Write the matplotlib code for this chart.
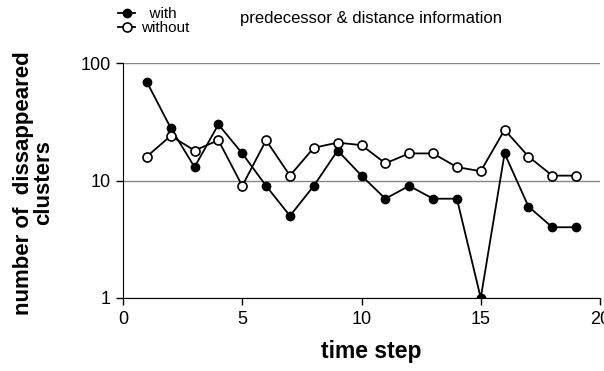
import numpy as np
import matplotlib.pyplot as plt

plt.rcParams['font.family'] = ['Liberation Sans', 'DejaVu Sans']

## data
time_step = [1, 2, 3, 4, 5, 6, 7, 8, 9, 10, 11, 12, 13, 14, 15, 16, 17, 18, 19]
with_info = [69, 28, 13, 30, 17, 9, 5, 9, 18, 11, 7, 9, 7, 7, 1, 17, 6, 4, 4]
without_info = [16, 24, 18, 22, 9, 22, 11, 19, 21, 20, 14, 17, 17, 13, 12, 27, 16, 11, 11]

fig = plt.figure(figsize=(6.04, 3.71), dpi=100)
ax = fig.add_axes([123 / 604, 1 - 298 / 371, 477 / 604, 235 / 371])

ax.plot(time_step, with_info, color='black', lw=1.3, marker='o', ms=6,
        mfc='black', mec='black', label='  with', zorder=3)
ax.plot(time_step, without_info, color='black', lw=1.3, marker='o', ms=6.5,
        mfc='white', mec='black', mew=1.2, label='without', zorder=3)

ax.set_yscale('log')
ax.set_ylim(1, 100)
ax.set_xlim(0, 20)
ax.set_xticks([0, 5, 10, 15, 20])
ax.set_yticks([1, 10, 100])
ax.set_yticklabels(['1', '10', '100'])
ax.minorticks_off()
ax.tick_params(direction='out', length=5, width=1, labelsize=13, pad=4)
ax.yaxis.grid(True, color='#888888', lw=1)
ax.set_axisbelow(True)

ax.spines['top'].set_visible(False)
ax.spines['right'].set_visible(False)

ax.set_xlabel('time step', fontsize=16.5, fontweight='bold')
ax.xaxis.set_label_coords(0.52, -0.18)
ax.set_ylabel('number of  dissappeared\nclusters', fontsize=16, fontweight='bold',
              linespacing=0.95)
ax.yaxis.set_label_coords(-0.145, 0.49)

fig.legend(loc='upper left', bbox_to_anchor=(112 / 604, 1 - 1 / 371), frameon=False,
           fontsize=11, handlelength=1.1, handletextpad=0.4, labelspacing=0.0,
           borderaxespad=0)
fig.text(240 / 604, 1 - 18 / 371, 'predecessor & distance information',
         fontsize=12, va='center')

fig.savefig('out.png', dpi=100)
